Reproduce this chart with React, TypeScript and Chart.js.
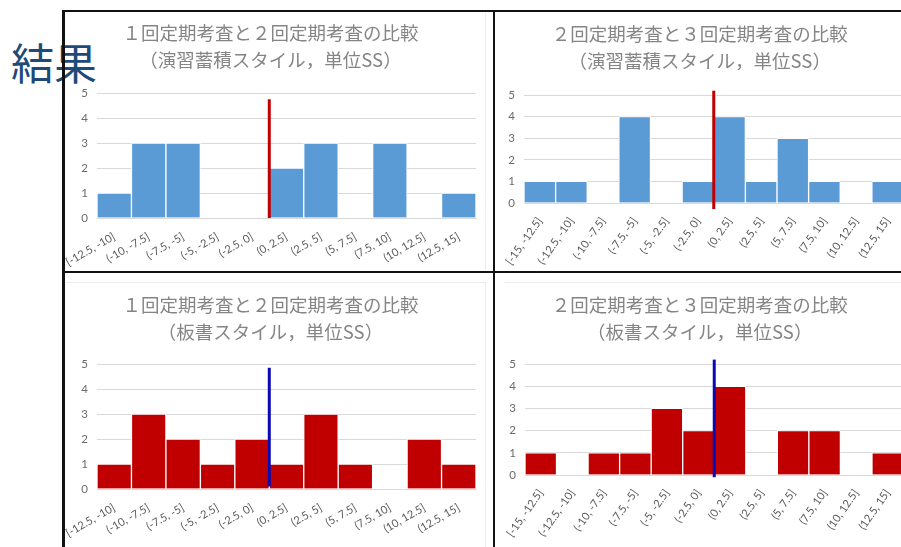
import React, { useEffect, useRef } from "react";
import { Chart, registerables } from "chart.js";

Chart.register(...registerables);

// ---- data ----
const binsFrom125 = ["[-12.5, -10]", "(-10, -7.5]", "(-7.5, -5]", "(-5, -2.5]", "(-2.5, 0]", "(0, 2.5]", "(2.5, 5]", "(5, 7.5]", "(7.5, 10]", "(10, 12.5]", "(12.5, 15]"];
const binsFrom15 = ["[-15, -12.5]", "(-12.5, -10]", "(-10, -7.5]", "(-7.5, -5]", "(-5, -2.5]", "(-2.5, 0]", "(0, 2.5]", "(2.5, 5]", "(5, 7.5]", "(7.5, 10]", "(10, 12.5]", "(12.5, 15]"];

const exercise12 = [1, 3, 3, 0, 0, 2, 3, 0, 3, 0, 1];
const exercise23 = [1, 1, 0, 4, 0, 1, 4, 1, 3, 1, 0, 1];
const board12 = [1, 3, 2, 1, 2, 1, 3, 1, 0, 2, 1];
const board23 = [1, 0, 1, 1, 3, 2, 4, 0, 2, 2, 0, 1];

// marker line: category position (boundary at zero) and value range
const marker12Pos = 4.5;
const marker23Pos = 5.5;
const markerEx12 = [0, 4.75];
const markerEx23 = [-0.28, 5.2];
const markerBd12 = [0.1, 4.85];
const markerBd23 = [-0.1, 5.2];

const titleLine12 = "１回定期考査と２回定期考査の比較";
const titleLine23 = "２回定期考査と３回定期考査の比較";
const subExercise = "（演習蓄積スタイル，単位SS）";
const subBoard = "（板書スタイル，単位SS）";
const yTicks = [0, 1, 2, 3, 4, 5];
const heading = "結果";

type PanelProps = {
  labels: string[];
  values: number[];
  color: string;
  markerPos: number;
  markerRange: number[];
  markerColor: string;
  title: string[];
  left: number;
  top: number;
  width: number;
  height: number;
  padRight: number;
  titleTop: number;
  titleBottom: number;
  yWidth: number;
  xHeight: number;
  rotation: number;
};

function Panel(p: PanelProps) {
  const ref = useRef<HTMLCanvasElement>(null);
  useEffect(() => {
    if (!ref.current) return;
    const markerPlugin = {
      id: "zeroMarker",
      afterDatasetsDraw(chart: any) {
        const xs = chart.scales.x;
        const ys = chart.scales.y;
        const x = xs.getPixelForValue(p.markerPos);
        const ctx = chart.ctx;
        ctx.save();
        ctx.strokeStyle = p.markerColor;
        ctx.lineWidth = 3;
        ctx.beginPath();
        ctx.moveTo(x, ys.getPixelForValue(p.markerRange[0]));
        ctx.lineTo(x, ys.getPixelForValue(p.markerRange[1]));
        ctx.stroke();
        ctx.restore();
      },
    };
    const chart = new Chart(ref.current, {
      type: "bar",
      data: {
        labels: p.labels,
        datasets: [
          {
            data: p.values,
            backgroundColor: p.color,
            borderColor: "#ffffff",
            borderWidth: 1,
            barPercentage: 1,
            categoryPercentage: 1,
          },
        ],
      },
      options: {
        animation: false,
        responsive: false,
        devicePixelRatio: 1,
        layout: { padding: { left: 0, right: p.padRight, top: 0, bottom: 0 } },
        plugins: {
          legend: { display: false },
          tooltip: { enabled: false },
          title: {
            display: true,
            text: p.title,
            color: "#858585",
            font: { family: "'Noto Sans CJK JP'", size: 18.5, weight: "normal", lineHeight: 1.46 },
            padding: { top: p.titleTop, bottom: p.titleBottom },
          },
        },
        scales: {
          x: {
            grid: { display: false },
            border: { display: true, color: "#d9d9d9" },
            ticks: {
              autoSkip: false,
              minRotation: p.rotation,
              maxRotation: p.rotation,
              color: "#595959",
              font: { family: "Lato", size: 11 },
              padding: 4,
            },
            afterFit: (s: any) => {
              s.height = p.xHeight;
              s.paddingLeft = 0;
              s.paddingRight = 0;
            },
          },
          y: {
            min: yTicks[0],
            max: yTicks[yTicks.length - 1],
            afterBuildTicks: (s: any) => {
              s.ticks = yTicks.map((v) => ({ value: v }));
            },
            grid: { color: "#d9d9d9", drawTicks: false },
            border: { display: false },
            ticks: {
              color: "#6b6b6b",
              font: { family: "Lato", size: 11.5 },
              padding: 9,
            },
            afterFit: (s: any) => {
              s.width = p.yWidth;
            },
          },
        },
      },
      plugins: [markerPlugin],
    } as any);
    return () => chart.destroy();
  }, []);
  return (
    <canvas
      ref={ref}
      width={p.width}
      height={p.height}
      style={{ position: "absolute", left: p.left, top: p.top, width: p.width, height: p.height, display: "block" }}
    />
  );
}

const line = (left: number, top: number, width: number, height: number, color = "#111") => (
  <div style={{ position: "absolute", left, top, width, height, background: color }} />
);

export default function App() {
  return (
    <div
      style={{
        position: "absolute",
        left: 0,
        top: 0,
        width: 901,
        height: 547,
        overflow: "hidden",
        background: "#ffffff",
      }}
    >
      <div
        style={{
          position: "absolute",
          left: 11,
          top: 40,
          fontFamily: "'Noto Sans CJK JP'",
          fontSize: 43,
          lineHeight: "43px",
          color: "#1f4a78",
          whiteSpace: "nowrap",
        }}
      >
        {heading}
      </div>
      {/* faint chart borders */}
      {line(485, 13, 1, 257, "#ececec")}
      {line(485, 282, 1, 265, "#ececec")}
      {line(66, 282, 419, 1, "#ececec")}
      {line(505, 282, 396, 1, "#ececec")}
      <Panel
        labels={binsFrom125}
        values={exercise12}
        color="#5b9bd5"
        markerPos={marker12Pos}
        markerRange={markerEx12}
        markerColor="#c00000"
        title={[titleLine12, subExercise]}
        left={65}
        top={13}
        width={428}
        height={257}
        padRight={17}
        titleTop={6.5}
        titleBottom={19.5}
        yWidth={32}
        xHeight={52}
        rotation={30}
      />
      <Panel
        labels={binsFrom15}
        values={exercise23}
        color="#5b9bd5"
        markerPos={marker23Pos}
        markerRange={markerEx23}
        markerColor="#c00000"
        title={[titleLine23, subExercise]}
        left={496}
        top={13}
        width={412}
        height={257}
        padRight={4.5}
        titleTop={7.5}
        titleBottom={20.5}
        yWidth={28}
        xHeight={67}
        rotation={55}
      />
      <Panel
        labels={binsFrom125}
        values={board12}
        color="#c00000"
        markerPos={marker12Pos}
        markerRange={markerBd12}
        markerColor="#0a0ab4"
        title={[titleLine12, subBoard]}
        left={65}
        top={274}
        width={428}
        height={273}
        padRight={17}
        titleTop={17.5}
        titleBottom={18.5}
        yWidth={32}
        xHeight={58}
        rotation={30}
      />
      <Panel
        labels={binsFrom15}
        values={board23}
        color="#c00000"
        markerPos={marker23Pos}
        markerRange={markerBd23}
        markerColor="#0a0ab4"
        title={[titleLine23, subBoard]}
        left={496}
        top={274}
        width={412}
        height={273}
        padRight={4.5}
        titleTop={17.5}
        titleBottom={18.5}
        yWidth={29}
        xHeight={72}
        rotation={55}
      />
      {/* black frame lines */}
      {line(62, 10, 839, 2)}
      {line(62, 10, 3, 537)}
      {line(493, 10, 2, 537)}
      {line(62, 271, 839, 2)}
    </div>
  );
}
